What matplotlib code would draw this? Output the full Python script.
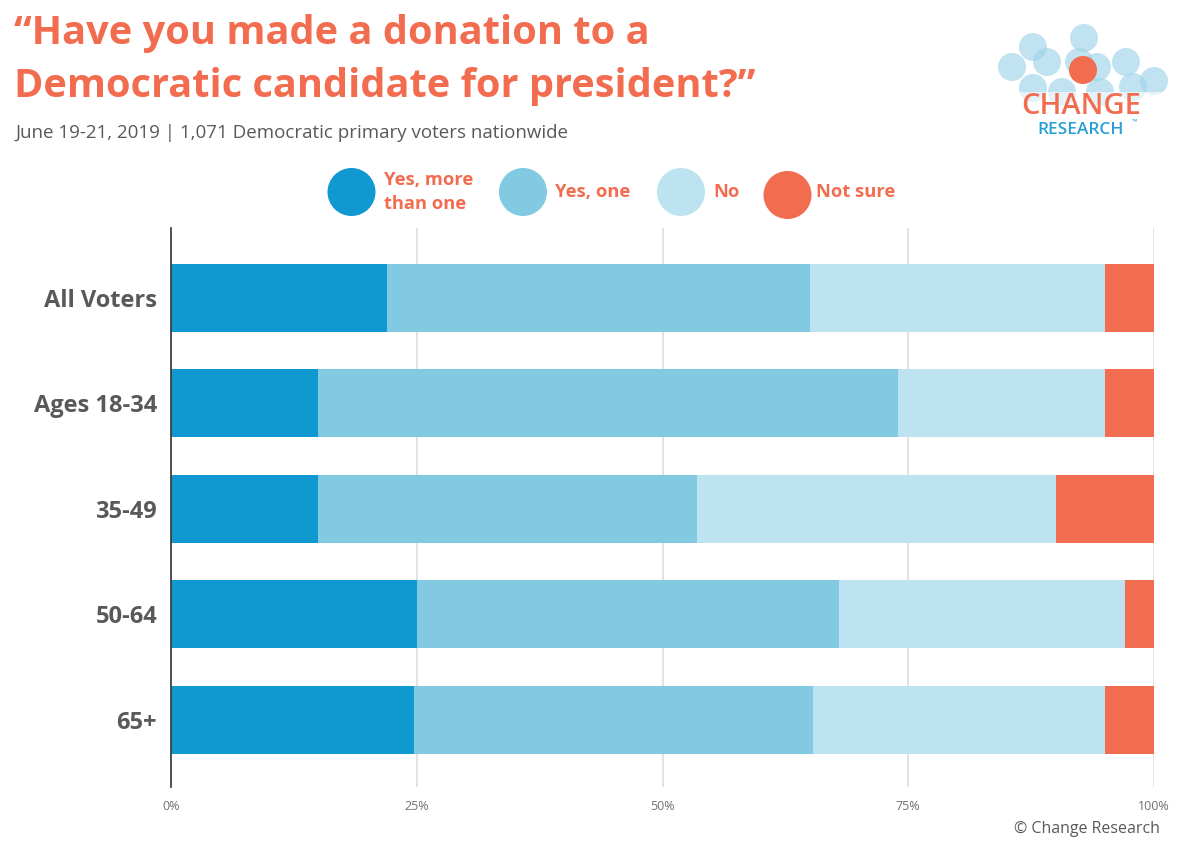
import matplotlib
matplotlib.use("Agg")
import matplotlib.pyplot as plt
from matplotlib.patches import Ellipse, Circle
import numpy as np

# data
groups = ["All Voters", "Ages 18-34", "35-49", "50-64", "65+"]
answers = ["Yes, more\nthan one", "Yes, one", "No", "Not sure"]
yes_more = [22, 15, 15, 25, 24.7]
yes_one = [43, 59, 38.5, 43, 40.6]
no = [30, 21, 36.5, 29, 29.7]
not_sure = [5, 5, 10, 3, 5]
ticks = [0, 25, 50, 75, 100]
tick_labels = ["0%", "25%", "50%", "75%", "100%"]

colors = ["#1099d1", "#82c9e2", "#bde3f1", "#f26c4f"]
orange = "#f26c4f"
grey = "#58595b"

plt.rcParams["font.family"] = ["Open Sans", "DejaVu Sans"]

W, H = 1179, 851
fig = plt.figure(figsize=(W / 100, H / 100), dpi=100)

# main chart
ax = fig.add_axes([171 / W, 1 - 787 / H, (1154 - 171) / W, (787 - 228) / H])
series = [yes_more, yes_one, no, not_sure]
ypos = np.arange(len(groups))
left = np.zeros(len(groups))
for vals, c in zip(series, colors):
    ax.barh(ypos, vals, left=left, height=0.645, color=c, zorder=3)
    left += np.array(vals)

ax.set_xlim(0, 100)
ax.set_ylim(4.64, -0.665)
ax.set_yticks(ypos)
ax.set_yticklabels(groups, fontsize=17, fontweight="bold", color=grey)
ax.set_xticks(ticks)
ax.set_xticklabels(tick_labels, fontsize=9, color="#707070")
ax.tick_params(axis="both", length=0)
ax.tick_params(axis="y", pad=10)
ax.tick_params(axis="x", pad=9)
ax.grid(axis="x", color="#dddddd", linewidth=1.2, zorder=0)
for s in ["top", "right", "bottom"]:
    ax.spines[s].set_visible(False)
ax.spines["left"].set_color("#333333")
ax.spines["left"].set_linewidth(1.2)
ax.spines["left"].set_zorder(4)

# overlay in pixel coords for titles, legend, logo
ov = fig.add_axes([0, 0, 1, 1], zorder=5)
ov.set_xlim(0, W)
ov.set_ylim(H, 0)
ov.axis("off")
ov.patch.set_alpha(0)

ov.text(14, 44, "\u201cHave you made a donation to a", fontsize=28.6, fontweight="bold",
        color=orange, va="baseline", ha="left")
ov.text(14, 97, "Democratic candidate for president?\u201d", fontsize=28.6, fontweight="bold",
        color=orange, va="baseline", ha="left")
ov.text(15, 138, "June 19-21, 2019 | 1,071 Democratic primary voters nationwide",
        fontsize=13.5, color=grey, va="baseline", ha="left")

# legend
leg_x = [351.5, 523, 681, 787.5]
leg_y = [192, 192, 192, 195]
txt_x = [384, 555, 713, 816]
for cx, cy, tx, c, lab in zip(leg_x, leg_y, txt_x, colors, answers):
    ov.add_patch(Ellipse((cx, cy), 48, 48, color=c, lw=0))
    ov.text(tx, 192, lab, fontsize=13.2, fontweight="bold", color=orange,
            va="center", ha="left", linespacing=1.4)

# logo
logo_circles = [(1012, 67), (1033, 47), (1047, 62), (1084, 38), (1079, 62),
                (1097, 67), (1126, 62), (1154, 81), (1133, 87), (1033, 88),
                (1100, 92), (1062, 92)]
for cx, cy in logo_circles:
    ov.add_patch(Circle((cx, cy), 14, color="#9fd3ea", alpha=0.65, lw=0))
ov.add_patch(Circle((1083, 70), 14, color=orange, lw=0))
ov.add_patch(plt.Rectangle((995, 92), 180, 40, color="white", alpha=0.6, lw=0))
ov.text(1081, 114, "CHANGE", fontsize=21, fontweight="semibold", color=orange,
        ha="center", va="baseline")
ov.text(1081, 134, "RESEARCH", fontsize=12.5, fontweight="semibold", color="#2a9fd6",
        ha="center", va="baseline")
ov.text(1135, 124, "\u2122", fontsize=5, color="#2a9fd6", ha="center", va="baseline")

ov.text(1160, 833, "\u00a9 Change Research", fontsize=11.5, color=grey,
        ha="right", va="baseline")

fig.savefig("out.png", dpi=100)
